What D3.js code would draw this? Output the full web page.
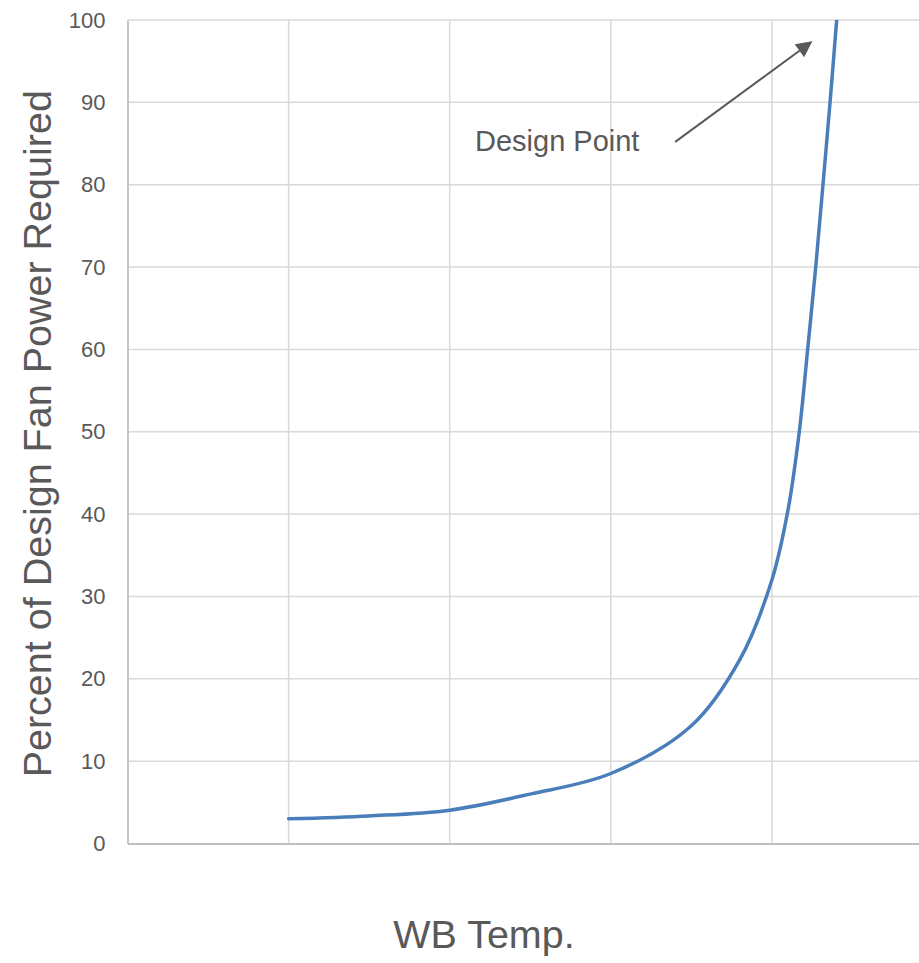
<!DOCTYPE html>
<html>
<head>
<meta charset="utf-8">
<script src="https://cdn.jsdelivr.net/npm/d3@7"></script>
<style>
  html, body { margin: 0; padding: 0; background: #ffffff; }
  svg { display: block; font-family: "Liberation Sans", Arial, sans-serif; }
</style>
</head>
<body>
<svg id="chart" width="919" height="963"></svg>
<script>
// Wet-bulb temperature positions (in grid steps) and fan power as % of design
const wbTemp   = [1.0, 1.5, 2.0, 2.5, 3.0, 3.5, 3.8, 4.0, 4.1, 4.17, 4.222, 4.272, 4.317, 4.361, 4.402];
const fanPower = [3.0, 3.35, 4.05, 6.0, 8.5, 14.3, 22.3, 32, 40.5, 50, 60, 70, 80, 90, 100];

const yTicks = [0, 10, 20, 30, 40, 50, 60, 70, 80, 90, 100];
const xGrid  = [1, 2, 3, 4, 5];

// Annotation arrow: from label towards the design point
const arrowFrom = { x: 3.40, y: 85.2 };
const arrowTo   = { x: 4.243, y: 97.3 };

const svg = d3.select("#chart");
const plotLeft = 127.5, plotTop = 20, plotBottom = 843.5, plotRight = 933;

const x = d3.scaleLinear().domain([0, 5]).range([plotLeft, plotRight]);
const y = d3.scaleLinear().domain([0, 100]).range([plotBottom, plotTop]);

const defs = svg.append("defs");
defs.append("clipPath").attr("id", "plotClip")
  .append("rect").attr("x", plotLeft).attr("y", plotTop)
  .attr("width", plotRight - plotLeft).attr("height", plotBottom - plotTop);

// horizontal gridlines
svg.append("g").selectAll("line").data(yTicks.filter(d => d > 0)).join("line")
  .attr("x1", plotLeft).attr("x2", plotRight)
  .attr("y1", d => y(d)).attr("y2", d => y(d))
  .attr("stroke", "#d9d9d9").attr("stroke-width", 1.5);

// vertical gridlines
svg.append("g").selectAll("line").data(xGrid).join("line")
  .attr("x1", d => x(d)).attr("x2", d => x(d))
  .attr("y1", plotTop).attr("y2", plotBottom)
  .attr("stroke", "#d9d9d9").attr("stroke-width", 1.5);

// y axis
const yAxis = svg.append("g")
  .attr("transform", `translate(${plotLeft},0)`)
  .call(d3.axisLeft(y).tickValues(yTicks).tickSize(0).tickPadding(22));
yAxis.select(".domain").attr("stroke", "#bfbfbf").attr("stroke-width", 1.8);
yAxis.selectAll("text")
  .attr("fill", "#595959").attr("font-size", 22)
  .attr("font-family", "Liberation Sans, Arial, sans-serif");

// x axis (no labels)
const xAxis = svg.append("g")
  .attr("transform", `translate(0,${plotBottom})`)
  .call(d3.axisBottom(x).tickValues([]).tickSize(0));
xAxis.select(".domain").attr("stroke", "#bfbfbf").attr("stroke-width", 1.8);

// curve
const line = d3.line()
  .x((d, i) => x(wbTemp[i]))
  .y(d => y(d))
  .curve(d3.curveCatmullRom.alpha(0.5));

svg.append("path")
  .datum(fanPower)
  .attr("clip-path", "url(#plotClip)")
  .attr("d", line)
  .attr("fill", "none")
  .attr("stroke", "#4a7ebb")
  .attr("stroke-width", 3.5)
  .attr("stroke-linecap", "round");

// arrow head marker
defs.append("marker")
  .attr("id", "arrowHead")
  .attr("viewBox", "0 0 10 10")
  .attr("refX", 9).attr("refY", 5)
  .attr("markerWidth", 9).attr("markerHeight", 8)
  .attr("markerUnits", "strokeWidth")
  .attr("orient", "auto")
  .append("path").attr("d", "M0,0 L10,5 L0,10 Z").attr("fill", "#595959");

svg.append("line")
  .attr("x1", x(arrowFrom.x)).attr("y1", y(arrowFrom.y))
  .attr("x2", x(arrowTo.x)).attr("y2", y(arrowTo.y))
  .attr("stroke", "#595959").attr("stroke-width", 2)
  .attr("marker-end", "url(#arrowHead)");

svg.append("text")
  .attr("x", 475).attr("y", 151)
  .attr("fill", "#595959").attr("font-size", 29)
  .text("Design Point");

// axis titles
svg.append("text")
  .attr("transform", `translate(51,${(plotTop + plotBottom) / 2 + 2}) rotate(-90)`)
  .attr("text-anchor", "middle")
  .attr("fill", "#595959").attr("font-size", 39.5)
  .text("Percent of Design Fan Power Required");

svg.append("text")
  .attr("x", 484).attr("y", 948)
  .attr("text-anchor", "middle")
  .attr("fill", "#595959").attr("font-size", 39.5)
  .text("WB Temp.");
</script>
</body>
</html>
